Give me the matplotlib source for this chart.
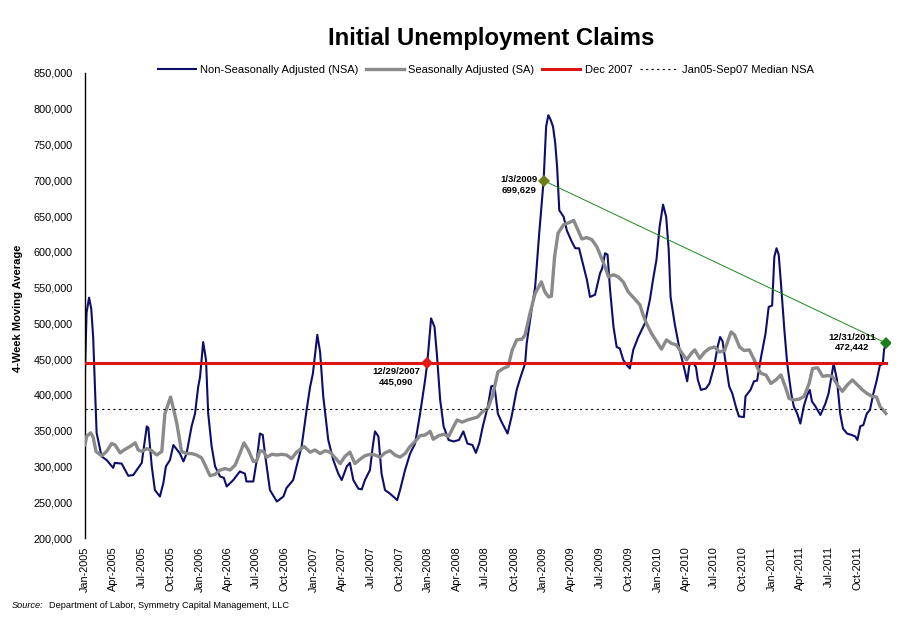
import matplotlib
matplotlib.use('Agg')
import matplotlib.pyplot as plt
import pandas as pd
from matplotlib.ticker import FuncFormatter

plt.rcParams['font.family'] = ['Liberation Sans', 'DejaVu Sans']

title = "Initial Unemployment Claims"
y_label = "4-Week Moving Average"
source_label = "Source:"
source_text = "Department of Labor, Symmetry Capital Management, LLC"
series_labels = ["Non-Seasonally Adjusted (NSA)", "Seasonally Adjusted (SA)",
                 "Dec 2007", "Jan05-Sep07 Median NSA"]

nsa_dates = [
    "2005-01-01", "2005-01-06", "2005-01-14", "2005-01-21", "2005-01-27", "2005-02-07",
    "2005-02-23", "2005-03-11", "2005-04-01", "2005-04-06", "2005-04-28", "2005-05-19",
    "2005-06-04", "2005-06-20", "2005-07-01", "2005-07-17", "2005-07-22", "2005-08-02",
    "2005-08-12", "2005-08-28", "2005-09-08", "2005-09-16", "2005-09-29", "2005-10-10",
    "2005-10-31", "2005-11-11", "2005-11-21", "2005-12-07", "2005-12-18", "2005-12-28",
    "2006-01-03", "2006-01-13", "2006-01-22", "2006-01-29", "2006-02-09", "2006-02-20",
    "2006-03-08", "2006-03-20", "2006-03-29", "2006-04-19", "2006-05-10", "2006-05-26",
    "2006-05-31", "2006-06-22", "2006-07-03", "2006-07-13", "2006-07-22", "2006-07-29",
    "2006-08-14", "2006-09-05", "2006-09-26", "2006-10-06", "2006-10-27", "2006-11-07",
    "2006-11-23", "2006-12-09", "2006-12-20", "2006-12-29", "2007-01-12", "2007-01-21",
    "2007-01-31", "2007-02-16", "2007-03-04", "2007-03-20", "2007-03-31", "2007-04-16",
    "2007-04-26", "2007-05-07", "2007-05-23", "2007-06-03", "2007-06-13", "2007-06-29",
    "2007-07-08", "2007-07-15", "2007-07-26", "2007-08-05", "2007-08-16", "2007-09-01",
    "2007-09-11", "2007-09-24", "2007-10-03", "2007-10-19", "2007-11-04", "2007-11-20",
    "2007-12-06", "2007-12-22", "2007-12-29", "2008-01-10", "2008-01-21", "2008-01-29",
    "2008-02-08", "2008-02-19", "2008-03-06", "2008-03-22", "2008-04-08", "2008-04-22",
    "2008-05-05", "2008-05-21", "2008-06-01", "2008-06-12", "2008-06-23", "2008-07-09",
    "2008-07-20", "2008-07-30", "2008-08-10", "2008-08-21", "2008-09-10", "2008-09-23",
    "2008-10-09", "2008-10-20", "2008-11-05", "2008-11-10", "2008-11-21", "2008-11-27",
    "2008-12-07", "2008-12-20", "2009-01-03", "2009-01-11", "2009-01-18", "2009-01-25",
    "2009-02-02", "2009-02-09", "2009-02-15", "2009-02-22", "2009-03-08", "2009-03-18",
    "2009-04-03", "2009-04-14", "2009-04-26", "2009-05-05", "2009-05-21", "2009-05-31",
    "2009-06-16", "2009-07-02", "2009-07-09", "2009-07-18", "2009-07-26", "2009-08-03",
    "2009-08-14", "2009-08-24", "2009-09-03", "2009-09-14", "2009-09-25", "2009-10-05",
    "2009-10-16", "2009-11-01", "2009-11-22", "2009-12-08", "2009-12-18", "2009-12-29",
    "2010-01-08", "2010-01-19", "2010-01-29", "2010-02-06", "2010-02-12", "2010-02-25",
    "2010-03-13", "2010-03-26", "2010-04-06", "2010-04-13", "2010-04-25", "2010-05-04",
    "2010-05-10", "2010-05-20", "2010-06-05", "2010-06-16", "2010-07-01", "2010-07-12",
    "2010-07-20", "2010-07-28", "2010-08-07", "2010-08-18", "2010-08-28", "2010-09-08",
    "2010-09-18", "2010-10-04", "2010-10-09", "2010-10-25", "2010-11-05", "2010-11-15",
    "2010-11-26", "2010-12-12", "2010-12-22", "2011-01-02", "2011-01-09", "2011-01-16",
    "2011-01-23", "2011-01-31", "2011-02-10", "2011-02-19", "2011-03-04", "2011-03-12",
    "2011-03-23", "2011-04-02", "2011-04-13", "2011-04-24", "2011-05-02", "2011-05-09",
    "2011-05-20", "2011-06-05", "2011-06-21", "2011-07-01", "2011-07-12", "2011-07-17",
    "2011-07-28", "2011-08-07", "2011-08-16", "2011-08-29", "2011-09-13", "2011-09-24",
    "2011-10-01", "2011-10-10", "2011-10-20", "2011-10-31", "2011-11-10", "2011-11-21",
    "2011-12-02", "2011-12-12", "2011-12-21", "2011-12-25", "2011-12-31",
]
nsa_values = [
    433000, 515000, 536000, 520000, 481000, 347000,
    314000, 309000, 298000, 305000, 304000, 287000,
    288000, 298000, 305000, 356000, 354000, 300000,
    267000, 258000, 277000, 300000, 309000, 330000,
    318000, 307000, 318000, 356000, 374000, 411000,
    425000, 474000, 449000, 374000, 328000, 300000,
    286000, 284000, 272000, 281000, 293000, 290000,
    279000, 279000, 309000, 346000, 344000, 318000,
    267000, 251000, 258000, 270000, 281000, 300000,
    328000, 379000, 411000, 430000, 484000, 460000,
    398000, 337000, 309000, 290000, 281000, 300000,
    305000, 281000, 269000, 268000, 281000, 295000,
    328000, 349000, 342000, 290000, 267000, 262000,
    258000, 253000, 267000, 295000, 318000, 332000,
    374000, 421000, 445090, 507000, 495000, 454000,
    393000, 356000, 337000, 335000, 337000, 349000,
    332000, 330000, 319000, 333000, 356000, 384000,
    412000, 413000, 374000, 363000, 346000, 370000,
    407000, 423000, 444000, 472000, 505000, 523000,
    551000, 626000, 699629, 775000, 791000, 785000,
    775000, 752000, 719000, 658000, 649000, 630000,
    614000, 605000, 605000, 589000, 561000, 537000,
    540000, 570000, 577000, 598000, 596000, 547000,
    495000, 467000, 465000, 449000, 442000, 437000,
    463000, 481000, 500000, 533000, 561000, 589000,
    635000, 666000, 649000, 603000, 537000, 500000,
    463000, 440000, 419000, 442000, 445000, 439000,
    421000, 407000, 409000, 416000, 440000, 467000,
    481000, 475000, 444000, 412000, 402000, 384000,
    370000, 369000, 398000, 407000, 419000, 420000,
    449000, 486000, 523000, 525000, 593000, 605000,
    596000, 551000, 491000, 444000, 402000, 384000,
    374000, 360000, 384000, 400000, 407000, 391000,
    384000, 372000, 388000, 402000, 430000, 444000,
    421000, 374000, 353000, 346000, 344000, 342000,
    337000, 356000, 358000, 374000, 379000, 402000,
    421000, 442000, 443000, 463000, 472442,
]

sa_dates = [
    "2005-01-01", "2005-01-06", "2005-01-19", "2005-01-27", "2005-02-05", "2005-02-23",
    "2005-03-11", "2005-03-27", "2005-04-07", "2005-04-23", "2005-05-09", "2005-05-25",
    "2005-06-10", "2005-06-20", "2005-07-01", "2005-07-17", "2005-08-02", "2005-08-18",
    "2005-09-03", "2005-09-13", "2005-10-01", "2005-10-10", "2005-10-21", "2005-11-05",
    "2005-11-21", "2005-12-07", "2005-12-23", "2006-01-08", "2006-01-19", "2006-02-04",
    "2006-02-20", "2006-03-08", "2006-03-24", "2006-04-09", "2006-04-25", "2006-05-10",
    "2006-05-23", "2006-06-06", "2006-06-22", "2006-07-03", "2006-07-13", "2006-07-24",
    "2006-08-04", "2006-08-20", "2006-09-05", "2006-09-20", "2006-10-06", "2006-10-22",
    "2006-11-07", "2006-12-01", "2006-12-20", "2007-01-05", "2007-01-21", "2007-02-06",
    "2007-02-22", "2007-03-10", "2007-03-26", "2007-04-10", "2007-04-26", "2007-05-12",
    "2007-05-28", "2007-06-13", "2007-06-29", "2007-07-15", "2007-07-31", "2007-08-16",
    "2007-09-01", "2007-09-17", "2007-10-03", "2007-10-19", "2007-11-04", "2007-11-20",
    "2007-12-06", "2007-12-22", "2008-01-07", "2008-01-17", "2008-02-03", "2008-02-19",
    "2008-03-06", "2008-03-22", "2008-04-02", "2008-04-18", "2008-05-05", "2008-05-21",
    "2008-06-06", "2008-06-23", "2008-07-09", "2008-07-25", "2008-08-10", "2008-08-27",
    "2008-09-12", "2008-09-25", "2008-10-09", "2008-10-26", "2008-11-05", "2008-11-21",
    "2008-12-07", "2008-12-27", "2009-01-07", "2009-01-19", "2009-01-28", "2009-02-07",
    "2009-02-18", "2009-03-08", "2009-03-26", "2009-04-09", "2009-04-25", "2009-05-05",
    "2009-05-21", "2009-06-06", "2009-06-22", "2009-07-07", "2009-07-18", "2009-07-29",
    "2009-08-14", "2009-08-29", "2009-09-14", "2009-09-30", "2009-10-21", "2009-11-06",
    "2009-11-17", "2009-11-27", "2009-12-13", "2009-12-29", "2010-01-14", "2010-01-30",
    "2010-02-15", "2010-03-02", "2010-03-18", "2010-04-04", "2010-04-19", "2010-04-30",
    "2010-05-16", "2010-06-01", "2010-06-16", "2010-07-02", "2010-07-18", "2010-08-03",
    "2010-08-24", "2010-09-04", "2010-09-20", "2010-10-05", "2010-10-21", "2010-11-06",
    "2010-11-17", "2010-11-28", "2010-12-13", "2010-12-29", "2011-01-14", "2011-01-30",
    "2011-02-15", "2011-02-25", "2011-03-13", "2011-03-29", "2011-04-14", "2011-04-30",
    "2011-05-11", "2011-05-27", "2011-06-12", "2011-06-27", "2011-07-13", "2011-07-29",
    "2011-08-14", "2011-08-30", "2011-09-15", "2011-10-01", "2011-10-17", "2011-11-01",
    "2011-11-17", "2011-12-01", "2011-12-12", "2011-12-31",
]
sa_values = [
    330000, 342000, 347000, 341000, 321000, 315000,
    321000, 332000, 330000, 319000, 324000, 328000,
    333000, 323000, 321000, 325000, 322000, 316000,
    321000, 374000, 397000, 381000, 360000, 321000,
    318000, 318000, 316000, 312000, 302000, 287000,
    289000, 295000, 297000, 295000, 302000, 318000,
    333000, 323000, 307000, 308000, 322000, 321000,
    313000, 317000, 316000, 317000, 316000, 311000,
    320000, 328000, 320000, 323000, 318000, 322000,
    320000, 312000, 304000, 314000, 320000, 304000,
    310000, 315000, 317000, 316000, 313000, 319000,
    322000, 316000, 313000, 318000, 328000, 335000,
    343000, 344000, 349000, 338000, 343000, 345000,
    342000, 356000, 365000, 362000, 365000, 367000,
    369000, 377000, 381000, 400000, 432000, 437000,
    440000, 463000, 477000, 478000, 484000, 515000,
    542000, 558000, 544000, 537000, 538000, 593000,
    626000, 638000, 641000, 644000, 628000, 618000,
    620000, 617000, 607000, 591000, 579000, 565000,
    568000, 565000, 558000, 544000, 534000, 526000,
    511000, 500000, 486000, 475000, 464000, 477000,
    472000, 470000, 460000, 449000, 458000, 463000,
    451000, 460000, 465000, 467000, 460000, 462000,
    488000, 484000, 467000, 462000, 463000, 449000,
    437000, 430000, 428000, 416000, 421000, 428000,
    409000, 395000, 393000, 394000, 398000, 416000,
    437000, 438000, 426000, 427000, 426000, 414000,
    405000, 414000, 421000, 414000, 407000, 402000,
    398000, 397000, 384000, 374000,
]

dec2007_level = 445090
median_nsa_level = 380000
point_dates = ["2007-12-29", "2009-01-03", "2011-12-31"]
point_values = [445090, 699629, 472442]
point_labels = ["12/29/2007\n445,090", "1/3/2009\n699,629", "12/31/2011\n472,442"]
y_ticks = [200000, 250000, 300000, 350000, 400000, 450000, 500000,
           550000, 600000, 650000, 700000, 750000, 800000, 850000]
x_tick_start = "2005-01-01"
x_tick_end = "2011-10-01"

nsa_x = pd.to_datetime(nsa_dates)
sa_x = pd.to_datetime(sa_dates)
pt_x = pd.to_datetime(point_dates)
start, end = nsa_x[0], nsa_x[-1]

fig = plt.figure(figsize=(9.11, 6.23), dpi=100)
ax = fig.add_axes([85 / 911, 85 / 623, 805 / 911, 465 / 623])

l_nsa, = ax.plot(nsa_x, nsa_values, color='#0d0d6b', lw=1.5, zorder=2)
l_sa, = ax.plot(sa_x, sa_values, color='#8a8a8a', lw=2.4, zorder=3)
l_red, = ax.plot([start, end], [dec2007_level, dec2007_level], color='#dd1414', lw=2.2, zorder=4)
l_med, = ax.plot([start, end], [median_nsa_level, median_nsa_level], color='black', lw=0.8,
                 linestyle=(0, (2, 3)), zorder=4)

# green trend line between the two green points
ax.plot(pt_x[1:], point_values[1:], color='#1a8a1a', lw=0.7, zorder=5)

marker_colors = ['#e01818', '#6b7d14', '#1a7f1a']
text_offsets = [(-31, -14), (-25, -4), (-34, 1)]
for d, v, lab, c, off in zip(pt_x, point_values, point_labels, marker_colors, text_offsets):
    ax.plot([d], [v], marker='D', color=c, markersize=6.5, zorder=6, markeredgewidth=0)
    ax.annotate(lab, xy=(d, v), xytext=off, textcoords='offset pixels',
                ha='center', va='center', fontsize=6.8, fontweight='bold',
                linespacing=1.15, zorder=7)

ax.set_ylim(200000, 850000)
ax.set_yticks(y_ticks)
ax.yaxis.set_major_formatter(FuncFormatter(lambda v, p: f"{int(v):,}"))
ticks = pd.date_range(x_tick_start, x_tick_end, freq='QS')
ax.set_xticks(ticks)
ax.set_xticklabels([t.strftime('%b-%Y') for t in ticks], rotation=90)
ax.set_xlim(pd.Timestamp("2005-01-01"), pd.Timestamp("2012-01-13"))

for s in ['top', 'right', 'bottom']:
    ax.spines[s].set_visible(False)
ax.spines['left'].set_linewidth(1.0)
ax.tick_params(axis='both', length=0, labelsize=7.8)
ax.tick_params(axis='y', pad=9)
ax.tick_params(axis='x', pad=6)

fig.text(18 / 911, 1 - 308 / 623, y_label, rotation=90, ha='center', va='center',
         fontsize=8, fontweight='bold')
fig.text(491 / 911, 1 - 38 / 623, title, ha='center', va='center', fontsize=17.2, fontweight='bold')

fig.legend([l_nsa, l_sa, l_red, l_med], series_labels, loc='center',
           bbox_to_anchor=(486 / 911, 1 - 70 / 623), ncol=4, frameon=False,
           fontsize=8, handlelength=3.4, columnspacing=0.7, handletextpad=0.4)

fig.text(12 / 911, 1 - 606 / 623, source_label, ha='left', va='center', fontsize=6.6, style='italic')
fig.text(49 / 911, 1 - 606 / 623, source_text, ha='left', va='center', fontsize=6.6)

fig.savefig('out.png', dpi=100)
